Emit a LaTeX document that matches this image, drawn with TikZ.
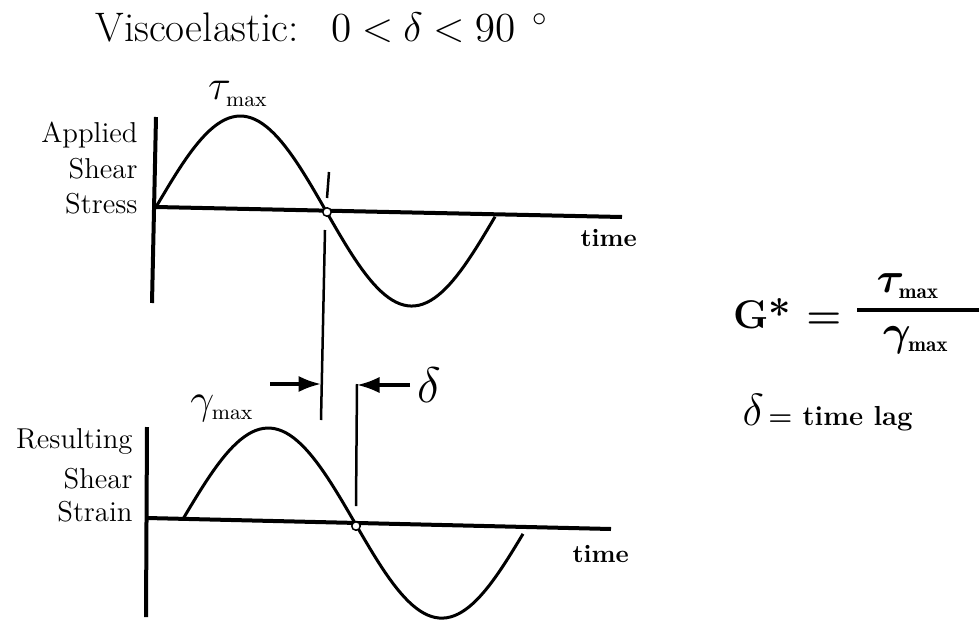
\RequirePackage{fix-cm}
\documentclass[tikz,border=0pt]{standalone}
\usepackage{amsmath,amssymb,bm}
\usepackage{fontspec}
\usepackage{tikz}
\usetikzlibrary{arrows.meta}
\newcommand{\mx}{\scriptscriptstyle\mathrm{max}}
\newcommand{\bmx}{\scriptscriptstyle\mathbf{max}}

\begin{document}
\begin{tikzpicture}[x=0.4pt,y=-0.4pt,>={Latex[length=9pt,width=6.5pt]},
  axis/.style={line width=1.6pt},
  wave/.style={line width=1.2pt},
  marker/.style={line width=1pt},
  lbl/.style={anchor=base east,inner sep=0pt,font=\fontsize{11.5}{14}\selectfont},
  tlbl/.style={anchor=base west,inner sep=0pt,font=\fontsize{10}{12}\selectfont\bfseries},
  sym/.style={font=\fontsize{17}{19}\selectfont}]
  \useasboundingbox (0,0) rectangle (979,620);
  \node[anchor=base west,inner sep=0pt,font=\fontsize{16.5}{19}\selectfont] (title) at (95,41)
    {Viscoelastic:\hspace{13pt}$\thickmuskip=4.5mu 0<\delta<90\;\,^{\circ}$};
  % stress
  \coordinate (St) at (156,117);
  \coordinate (Sb) at (152,303);
  \coordinate (So) at (156,207);
  \coordinate (Se) at (622,217);
  \coordinate (Sz) at (327,212);
  \draw[axis] (St) -- (Sb);
  \draw[axis] (So) -- (Se);
  \draw[wave] plot[domain=0:339,samples=90] ({156+\x},{207+0.0237*\x-93*sin(\x/170*180)});
  \draw[fill=white,line width=0.6pt] (Sz) circle[radius=1.7pt];
  \node[lbl] (appl) at (138,142) {Applied};
  \node[lbl] (shs) at (138,178) {Shear};
  \node[lbl] (strs) at (138,213) {Stress};
  \node[tlbl] (ts) at (580,246) {time};
  \node[sym] (tmax) at (238,94) {$\tau_{\mx}$};
  % strain
  \coordinate (Rt) at (147,427);
  \coordinate (Rb) at (146,617);
  \coordinate (Ro) at (147,518);
  \coordinate (Re) at (611,529);
  \coordinate (Rz) at (356,526);
  \draw[axis] (Rt) -- (Rb);
  \draw[axis] (Ro) -- (Re);
  \draw[wave] plot[domain=0:340,samples=90] ({183+\x},{519+0.0237*\x-93*sin(\x/172*180)});
  \draw[fill=white,line width=0.6pt] (Rz) circle[radius=1.7pt];
  \node[lbl] (res) at (133,448) {Resulting};
  \node[lbl] (shr) at (133,488) {Shear};
  \node[lbl] (strn) at (133,521) {Strain};
  \node[tlbl] (tr) at (572,562) {time};
  \node[sym] (gmax) at (222,408) {$\gamma_{\mx}$};
  % lag
  \coordinate (L1) at (329,172);
  \coordinate (L2) at (327,198);
  \coordinate (L3) at (325,230);
  \coordinate (L4) at (321,420);
  \coordinate (R1) at (357,384);
  \coordinate (R2) at (356,506);
  \coordinate (A1) at (270,384);
  \coordinate (A2) at (410,385);
  \draw[marker] (L1) -- (L2);
  \draw[marker] (L3) -- (L4);
  \draw[marker] (R1) -- (R2);
  \draw[->,line width=1.3pt] (A1) -- (A1 -| L4);
  \draw[->,line width=1.3pt] (A2) -- (A2 -| R1);
  \node[anchor=west,inner sep=0pt,font=\fontsize{20}{22}\selectfont] (dl) at (417,385) {$\delta$};
  % modulus
  \node[anchor=base west,inner sep=0pt,font=\fontsize{16}{18}\selectfont\bfseries] (gst) at (733,328) {G* $\boldsymbol{=}$};
  \coordinate (F1) at (857,310);
  \coordinate (F2) at (985,310);
  \draw[line width=1.4pt] (F1) -- (F2);
  \node[sym] (num) at (908,286) {$\boldsymbol{\tau}_{\bmx}$};
  \node[sym] (den) at (916,340) {$\boldsymbol{\gamma}_{\bmx}$};
  \node[anchor=base west,inner sep=0pt] (lag) at (742,425)
    {\fontsize{18}{20}\selectfont$\delta$\fontsize{11}{13}\selectfont\bfseries\,= time lag};
\end{tikzpicture}
\end{document}
